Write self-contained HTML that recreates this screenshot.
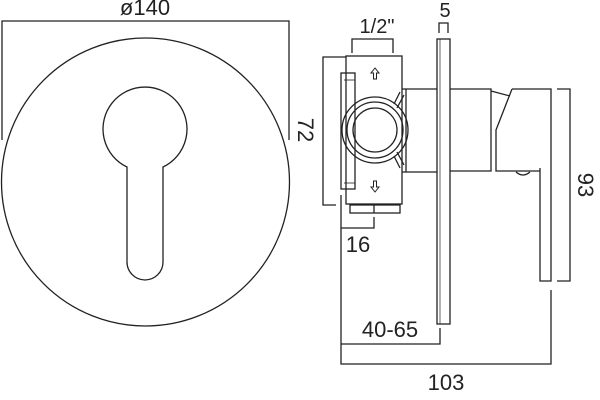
<!DOCTYPE html>
<html><head><meta charset="utf-8"><style>
html,body{margin:0;padding:0;background:#fff;width:600px;height:400px;overflow:hidden}
text{font-family:"Liberation Sans",sans-serif;fill:#222}
</style></head><body>
<svg width="600" height="400" viewBox="0 0 600 400" xmlns="http://www.w3.org/2000/svg">
<g fill="none" stroke="#222" stroke-width="1.3">
<!-- left view -->
<polyline points="2,140 2,21 289,21 289,140"/>
<circle cx="145.5" cy="182" r="144"/>
<path d="M127,167 A42,42 0 1 1 163,167 L163,262 A18,18 0 0 1 127,262 Z"/>
<!-- 1/2 bracket -->
<polyline points="352,53 352,39 393,39 393,53"/>
<!-- 5 bracket -->
<polyline points="439,33 439,23 448,23 448,33"/>
<!-- plate -->
<rect x="437" y="39" width="13" height="285"/>
<line x1="440" y1="39" x2="440" y2="324" stroke-width="0.7"/>
<!-- valve body -->
<rect x="346" y="56" width="56" height="148"/>
<rect x="341" y="73" width="14" height="116"/>
<line x1="344" y1="80" x2="355" y2="80" stroke-width="0.8"/>
<line x1="344" y1="183" x2="355" y2="183" stroke-width="0.8"/>
<circle cx="375" cy="130" r="33"/>
<circle cx="375" cy="130" r="28"/>
<circle cx="375" cy="130" r="22"/>
<path d="M394,104 L400,92 M397,108 L404,95 M394,156 L400,168 M397,152 L404,165"/>
<rect x="350" y="205" width="50" height="8"/>
<line x1="374" y1="205" x2="374" y2="213"/>
<!-- arrows -->
<path d="M375,68 l-4,5 h2.5 v6 h3 v-6 h2.5 z" stroke-width="1"/>
<path d="M375,192 l-4,-5 h2.5 v-6 h3 v6 h2.5 z" stroke-width="1"/>
<!-- pipe to plate -->
<polyline points="402,89 437,89"/>
<polyline points="402,172 437,172"/>
<line x1="406" y1="89" x2="406" y2="172"/>
<!-- handle -->
<polyline points="450,89 491,89 491,171 450,171"/>
<polyline points="491,91 510,96"/>
<polyline points="512,89 496,130 496,171 540,171"/>
<polyline points="512,89 551,89 551,281 540,281 540,168"/>
<path d="M516,172 q7,6 14,0"/>
<!-- 93 -->
<polyline points="557,89 570,89 570,281 557,281"/>
<!-- 72 -->
<polyline points="346,57 323,57 323,205 336,205"/>
<!-- 16 -->
<polyline points="341,195 341,228 374,228 374,217"/>
<!-- 40-65 & 103 -->
<polyline points="341,228 341,364 551,364 551,290"/>
<polyline points="341,344 440,344 440,328"/>
</g>
<g font-size="22">
<text x="145" y="15" text-anchor="middle">ø140</text>
<text x="377" y="33" text-anchor="middle" font-size="20">1/2"</text>
<text x="445" y="17" text-anchor="middle" font-size="20">5</text>
<text x="358" y="252" text-anchor="middle">16</text>
<text x="390" y="337" text-anchor="middle">40-65</text>
<text x="446" y="390" text-anchor="middle">103</text>
<text transform="translate(298,130) rotate(90)" text-anchor="middle">72</text>
<text transform="translate(578,185) rotate(90)" text-anchor="middle">93</text>
</g>
</svg>
</body></html>
